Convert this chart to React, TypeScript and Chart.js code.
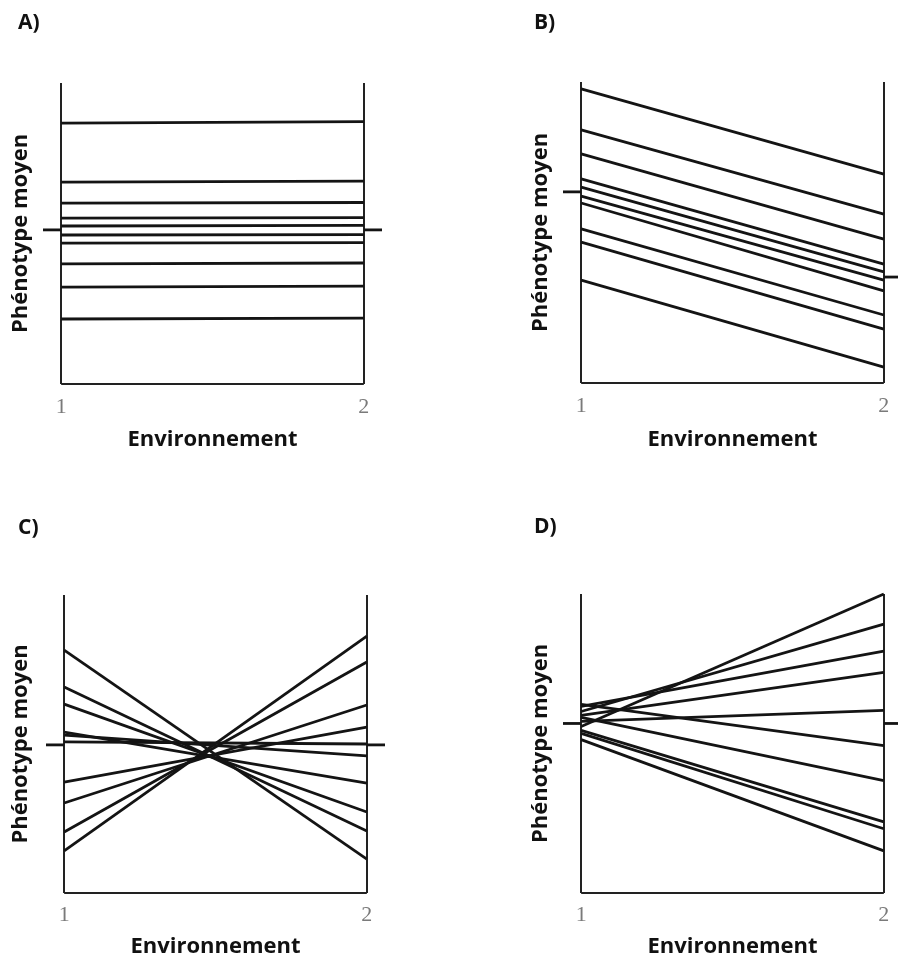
import React, { useEffect, useRef } from "react";
import { Chart, registerables } from "chart.js";

Chart.register(...registerables);

// ---------- data ----------
const environments = [1, 2];
const tickLabels = ["1", "2"];
const panelLetters = ["A)", "B)", "C)", "D)"];
const yAxisTitle = "Phénotype moyen";
const xAxisTitle = "Environnement";

// A) no interaction, no environmental effect
const aEnv1 = [86.7, 67.1, 60.1, 55.1, 52.5, 49.5, 46.8, 39.9, 32.2, 21.6];
const aEnv2 = [87.2, 67.4, 60.3, 55.3, 52.7, 49.6, 47.0, 40.2, 32.5, 21.9];
const aMean = [51.2, 51.2];

// B) environmental effect, no interaction
const bEnv1 = [97.7, 84.1, 76.1, 67.8, 65.1, 62.1, 59.8, 51.2, 46.8, 34.2];
const bEnv2 = [69.4, 56.1, 47.8, 39.5, 36.9, 34.2, 30.6, 22.6, 17.9, 5.3];
const bMean = [63.5, 35.2];

// C) crossing interaction
const cEnv1 = [81.5, 69.1, 63.4, 54.0, 53.0, 50.7, 37.2, 30.2, 20.5, 14.1];
const cEnv2 = [11.4, 20.8, 27.2, 36.9, 46.0, 50.0, 55.7, 63.1, 77.5, 86.2];
const cMean = [49.7, 49.7];

// D) increasing variance
const dEnv1 = [55.7, 60.7, 62.4, 59.4, 57.4, 63.1, 58.7, 54.4, 53.4, 51.3];
const dEnv2 = [100, 89.9, 80.9, 73.8, 61.1, 49.3, 37.6, 23.8, 21.5, 14.1];
const dMean = [56.7, 56.7];

const panelEnv1 = [aEnv1, bEnv1, cEnv1, dEnv1];
const panelEnv2 = [aEnv2, bEnv2, cEnv2, dEnv2];
const panelMeans = [aMean, bMean, cMean, dMean];

// ---------- layout / style ----------
const PAGE_W = 898;
const PAGE_H = 957;
const PANEL_W = 520;
const PANEL_H = 508;
const X_MIN = 0.94;
const X_MAX = 2.06;
const Y_MIN = 0;
const Y_MAX = 100;
const AREA_LEFT = 43;
const AREA_RIGHT = 382;

const FONT_FAMILY = "'Open Sans', 'DejaVu Sans', sans-serif";
const LETTER_SIZE = 21;
const LETTER_LH = LETTER_SIZE * 1.2;
const AXIS_TITLE_SIZE = 22;
const Y_TITLE_LH = AXIS_TITLE_SIZE * 1.2;
const X_TITLE_LH = AXIS_TITLE_SIZE * 1.0;
const TICK_SIZE = 22;
const TICK_LH = TICK_SIZE * 1.0;
const XT_PAD_BOTTOM = 4;
const TEXT_SHIFT = 2; // visual centre of glyphs sits a little below the 'middle' baseline

const panelLayouts = [
  { left: 0, top: 0, letterX: 18, letterY: 23, yTitleX: 21, areaTop: 83, areaBottom: 384, tickY: 405, xTitleY: 438 },
  { left: 520, top: 0, letterX: 14, letterY: 23, yTitleX: 21, areaTop: 82, areaBottom: 383, tickY: 404, xTitleY: 438 },
  { left: 3, top: 508, letterX: 15, letterY: 20, yTitleX: 18, areaTop: 87, areaBottom: 385, tickY: 405, xTitleY: 437 },
  { left: 520, top: 508, letterX: 14, letterY: 19, yTitleX: 21, areaTop: 86, areaBottom: 385, tickY: 405, xTitleY: 437 },
];

const LINE_COLOR = "#141414";
const LINE_W = 2.8;
const FRAME_W = 2;

function buildConfig(index: number): any {
  const lay = panelLayouts[index];
  const env1 = panelEnv1[index];
  const env2 = panelEnv2[index];
  const mean = panelMeans[index];

  const genotypeSets = env1.map((v, i) => ({
    data: [
      { x: environments[0], y: v },
      { x: environments[1], y: env2[i] },
    ],
    borderColor: LINE_COLOR,
    borderWidth: LINE_W,
    pointRadius: 0,
    fill: false,
    clip: false,
  }));

  const meanSets = [
    {
      data: [
        { x: X_MIN, y: mean[0] },
        { x: environments[0], y: mean[0] },
      ],
      borderColor: LINE_COLOR,
      borderWidth: LINE_W,
      pointRadius: 0,
      clip: false,
    },
    {
      data: [
        { x: environments[1], y: mean[1] },
        { x: X_MAX, y: mean[1] },
      ],
      borderColor: LINE_COLOR,
      borderWidth: LINE_W,
      pointRadius: 0,
      clip: false,
    },
  ];

  const baseSet = {
    data: [
      { x: environments[0], y: Y_MIN },
      { x: environments[1], y: Y_MIN },
    ],
    borderColor: "#222",
    borderWidth: FRAME_W,
    pointRadius: 0,
    clip: false,
  };

  // y-axis title (rotated) placement
  const yPadTop = lay.yTitleX - lay.letterX - Y_TITLE_LH / 2;
  const yPadBottom = AREA_LEFT - lay.letterX - Y_TITLE_LH - yPadTop;

  // x-axis: Chart.js counts tick padding twice in the axis height
  const tickPad = lay.tickY + TEXT_SHIFT - lay.areaBottom - TICK_LH / 2;
  const xtPadTop =
    lay.xTitleY + TEXT_SHIFT - (lay.areaBottom + 2 * tickPad + TICK_LH + X_TITLE_LH / 2);
  const xAxisH = 2 * tickPad + TICK_LH + xtPadTop + X_TITLE_LH + XT_PAD_BOTTOM;

  return {
    type: "line",
    data: { datasets: [baseSet, ...genotypeSets, ...meanSets] },
    options: {
      animation: false,
      responsive: false,
      devicePixelRatio: 1,
      layout: {
        padding: {
          left: lay.letterX,
          right: PANEL_W - AREA_RIGHT,
          top: 0,
          bottom: PANEL_H - lay.areaBottom - xAxisH,
        },
      },
      plugins: {
        legend: { display: false },
        tooltip: { enabled: false },
        title: {
          display: true,
          text: panelLetters[index],
          align: "start",
          color: "#111",
          font: { family: FONT_FAMILY, size: LETTER_SIZE, weight: "bold", lineHeight: 1.2 },
          padding: {
            top: lay.letterY - LETTER_LH / 2,
            bottom: lay.areaTop - lay.letterY - LETTER_LH / 2,
          },
        },
      },
      scales: {
        x: {
          type: "linear",
          position: "bottom",
          min: X_MIN,
          max: X_MAX,
          afterBuildTicks: (scale: any) => {
            scale.ticks = environments.map((v) => ({ value: v }));
          },
          ticks: {
            autoSkip: false,
            maxRotation: 0,
            padding: tickPad,
            color: "#7a7a7a",
            font: { family: "'Liberation Serif', 'DejaVu Serif', serif", size: TICK_SIZE, lineHeight: 1.0 },
            callback: (value: any) => {
              const i = environments.indexOf(Number(value));
              return i >= 0 ? tickLabels[i] : "";
            },
          },
          grid: {
            display: true,
            drawTicks: false,
            drawOnChartArea: true,
            color: "#222",
            lineWidth: FRAME_W,
          },
          border: { display: false },
          title: {
            display: true,
            text: xAxisTitle,
            color: "#111",
            font: { family: FONT_FAMILY, size: AXIS_TITLE_SIZE, weight: "bold", lineHeight: 1.0 },
            padding: { top: xtPadTop, bottom: XT_PAD_BOTTOM },
          },
        },
        y: {
          type: "linear",
          position: "left",
          min: Y_MIN,
          max: Y_MAX,
          ticks: { display: false },
          grid: { display: false, drawTicks: false },
          border: { display: false },
          title: {
            display: true,
            text: yAxisTitle,
            color: "#111",
            font: { family: FONT_FAMILY, size: AXIS_TITLE_SIZE, weight: "bold", lineHeight: 1.2 },
            padding: { top: yPadTop, bottom: yPadBottom },
          },
        },
      },
    },
  };
}

function Panel({ index }: { index: number }) {
  const ref = useRef<HTMLCanvasElement | null>(null);
  useEffect(() => {
    if (!ref.current) return;
    const chart = new Chart(ref.current, buildConfig(index));
    return () => chart.destroy();
  }, [index]);
  const lay = panelLayouts[index];
  return (
    <div
      style={{
        position: "absolute",
        left: lay.left,
        top: lay.top,
        width: PANEL_W,
        height: PANEL_H,
      }}
    >
      <canvas ref={ref} width={PANEL_W} height={PANEL_H} style={{ display: "block" }} />
    </div>
  );
}

export default function App() {
  return (
    <div
      style={{
        position: "fixed",
        left: 0,
        top: 0,
        width: PAGE_W,
        height: PAGE_H,
        overflow: "hidden",
        background: "#fff",
      }}
    >
      {panelLetters.map((_, i) => (
        <Panel key={i} index={i} />
      ))}
    </div>
  );
}
